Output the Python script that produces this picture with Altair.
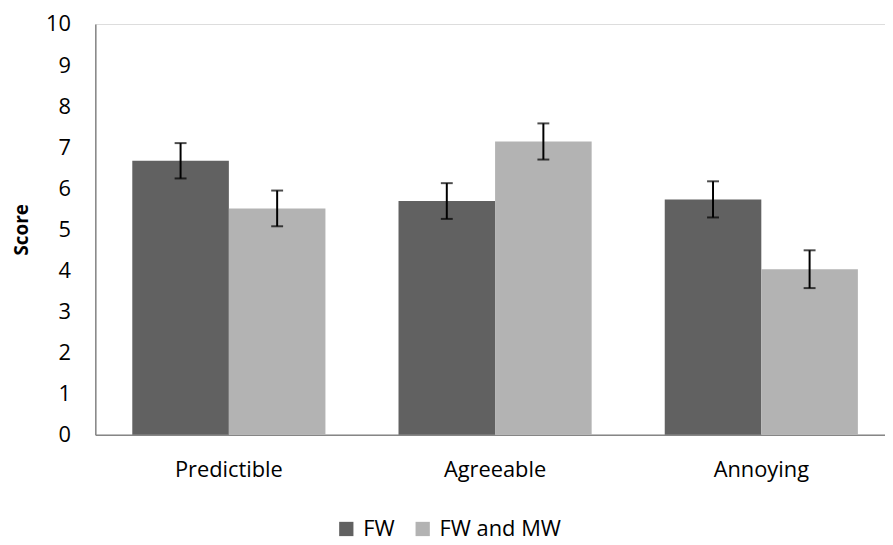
import altair as alt
import pandas as pd

categories = ["Predictible", "Agreeable", "Annoying"]
series = ["FW", "FW and MW"]
fw_values = [6.67, 5.69, 5.73]
fwmw_values = [5.51, 7.14, 4.03]
fw_errors = [0.43, 0.435, 0.44]
fwmw_errors = [0.435, 0.44, 0.46]
colors = ["#616161", "#b3b3b3"]
y_ticks = list(range(0, 11))

rows = []
for i, c in enumerate(categories):
    for s, vals, errs in ((series[0], fw_values, fw_errors), (series[1], fwmw_values, fwmw_errors)):
        rows.append({"category": c, "series": s, "score": vals[i],
                     "lo": vals[i] - errs[i], "hi": vals[i] + errs[i]})
df = pd.DataFrame(rows)

FONT = "Open Sans"

x_enc = alt.X("category:N", sort=categories,
              scale=alt.Scale(domain=categories, paddingInner=0.2745, paddingOuter=0.1204, align=0.577),
              axis=alt.Axis(title=None, labelAngle=0, ticks=False, labelPadding=25,
                            domainColor="#868686", domainWidth=1.5,
                            labelFontSize=22, labelFont=FONT, labelColor="black"))
xo_enc = alt.XOffset("series:N", scale=alt.Scale(domain=series, paddingInner=0, paddingOuter=0))
y_scale = alt.Scale(domain=[0, 10], nice=False)

bars = alt.Chart(df).mark_bar().encode(
    x=x_enc,
    xOffset=xo_enc,
    y=alt.Y("score:Q", scale=y_scale,
            axis=alt.Axis(values=y_ticks, grid=False, ticks=False, labelPadding=25,
                          domainColor="#868686", domainWidth=1.5,
                          labelFontSize=22, labelFont=FONT, labelColor="black",
                          title="Score", titleFont=FONT, titleFontSize=19, titleFontWeight="bold",
                          titleColor="black", titleAngle=270, titleX=-68, titleY=207,
                          titleAlign="center", titleBaseline="alphabetic")),
    color=alt.Color("series:N", scale=alt.Scale(domain=series, range=colors),
                    legend=alt.Legend(title=None, orient="none", legendX=242, legendY=498,
                                      direction="horizontal", symbolType="square", symbolSize=207,
                                      symbolStrokeWidth=0, labelFontSize=22, labelFont=FONT,
                                      labelColor="black", columnPadding=17, labelOffset=6)),
)

rule = alt.Chart(df).mark_rule(color="black", strokeWidth=2).encode(
    x=x_enc, xOffset=xo_enc,
    y=alt.Y("lo:Q", scale=y_scale), y2="hi:Q",
)
cap_hi = alt.Chart(df).mark_tick(color="black", thickness=2, size=12, orient="horizontal").encode(
    x=x_enc, xOffset=xo_enc, y=alt.Y("hi:Q", scale=y_scale),
)
cap_lo = alt.Chart(df).mark_tick(color="black", thickness=2, size=12, orient="horizontal").encode(
    x=x_enc, xOffset=xo_enc, y=alt.Y("lo:Q", scale=y_scale),
)

chart = alt.layer(bars, rule, cap_hi, cap_lo).properties(
    width=796, height=414,
    autosize=alt.AutoSizeParams(type="none"),
    padding={"left": 88, "top": 14, "right": 0, "bottom": 106},
).configure_view(stroke=None).configure(background="white")

chart.save("out.html", embed_options={"renderer": "svg", "actions": False})
